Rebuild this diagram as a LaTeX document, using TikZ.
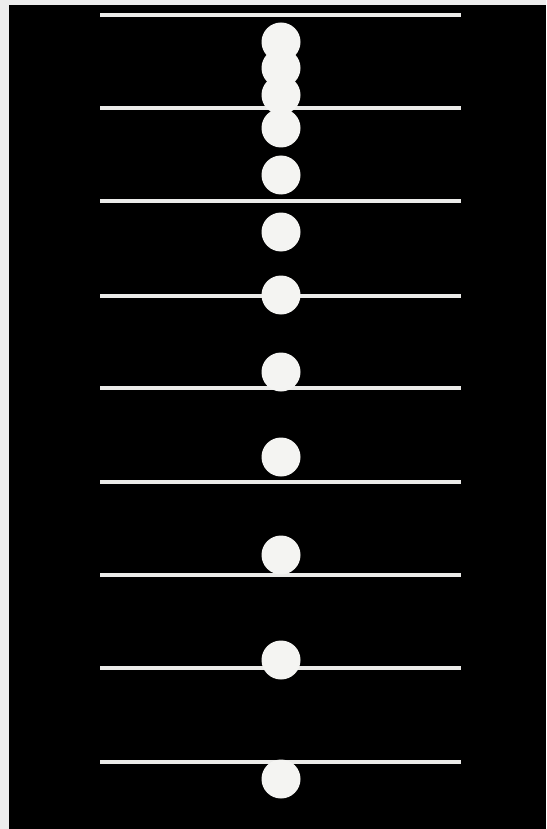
\documentclass[tikz,border=0pt]{standalone}
\usepackage{xcolor}
\usepackage{tikz}
\definecolor{FlashWhite}{HTML}{F4F4F2}
\definecolor{PaperEdge}{HTML}{EDEDED}

\begin{document}
\begin{tikzpicture}[x=1pt, y=-1pt,
  ball/.style={circle, fill=FlashWhite, inner sep=0pt, minimum size=39pt},
  ruler/.style={draw=FlashWhite!92!gray, line width=3.2pt}]
  % backdrop
  \fill[PaperEdge] (0,0) rectangle (546,829);
  \fill[black] (9,5) rectangle (546,829);
  % scale lines
  \foreach \y [count=\i] in {15,108,201,296,388,482,575,668,762}
    \draw[ruler] (100,\y) -- (461,\y);
  % strobe images of the ball
  \foreach \y [count=\i] in {42,68,95,128,175,232,295,372,457,555,660,779}
    \node[ball] (ball\i) at (281,\y) {};
\end{tikzpicture}
\end{document}
